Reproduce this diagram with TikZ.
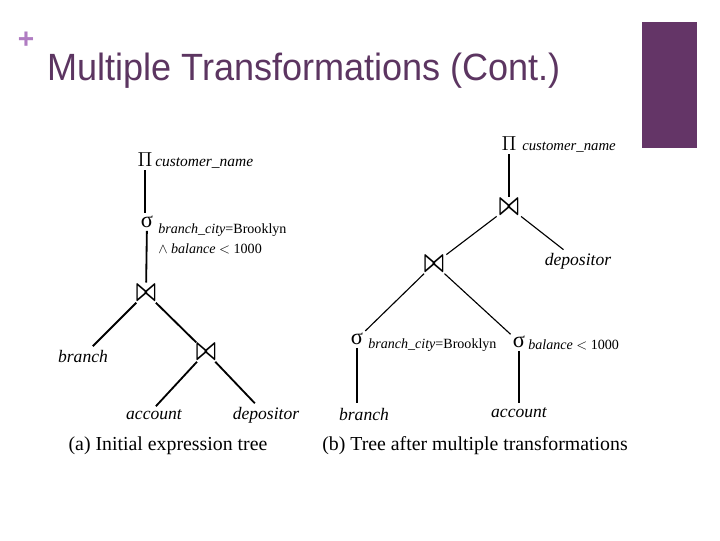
\documentclass[tikz,border=0pt]{standalone}
\usepackage{fontspec}
\usepackage{amsmath}
\usepackage{amssymb}
\setmainfont{Liberation Serif}
\newfontfamily\titlefont{Liberation Sans}
\usetikzlibrary{positioning}
\definecolor{slidePlum}{HTML}{643567}
\definecolor{slideTitle}{HTML}{5C3561}
\definecolor{slidePlus}{HTML}{B07CC2}
\tikzset{
  opsym/.style={inner sep=0pt, font=\fontsize{15}{15}\selectfont},
  sigsym/.style={inner sep=0pt, font=\fontsize{16}{16}\selectfont},
  relname/.style={inner sep=1pt, font=\fontsize{12.5}{14}\selectfont\itshape},
  attrlist/.style={inner sep=0pt, anchor=base west, font=\fontsize{11}{12}\selectfont\itshape},
  condtext/.style={inner sep=0pt, anchor=base west, align=left, font=\fontsize{10}{14}\selectfont},
  caption/.style={inner sep=0pt, font=\fontsize{14.1}{16}\selectfont},
  treeA/.style={line width=1.3pt, shorten <=2pt, shorten >=2pt},
  treeB/.style={line width=0.8pt, shorten <=2pt, shorten >=2pt}
}
\newcommand{\joinsym}{\scalebox{1.05}[1.55]{$\boldsymbol{\bowtie}$}}
\begin{document}
\begin{tikzpicture}[x=0.025cm, y=-0.025cm]
  \useasboundingbox (0,0) rectangle (720,540);
  % slide frame
  \fill[slidePlum] (642,22) rectangle (697,148);
  \node[text=slidePlus, font=\titlefont\bfseries\fontsize{20}{20}\selectfont, inner sep=0pt] (plus) at (26,40) {+};
  \node[text=slideTitle, font=\titlefont\fontsize{27}{30}\selectfont, anchor=base west, inner sep=0pt, xscale=0.95] (title) at (47,80) {Multiple Transformations (Cont.)};

  % (a) initial tree
  \node[opsym] (pia) at (145,160) {$\Pi$};
  \node[attrlist] (pialbl) at (155,166) {customer\_name};
  \node[sigsym] (siga) at (147,222) {σ};
  \node[condtext] (sigalbl) at (158,253) {\textit{branch\_city}=Brooklyn\\$\wedge$ \textit{balance} $<$ 1000};
  \node[opsym] (joina) at (146,293) {\joinsym};
  \node[relname] (brancha) at (83,356) {branch};
  \node[opsym] (joinb) at (206,352) {\joinsym};
  \node[relname] (accounta) at (154,415) {account};
  \node[relname] (depositora) at (266,415) {depositor};
  \draw[treeA] (pia) -- (pia |- siga.north);
  \draw[treeA] (siga) -- (joina);
  \draw[treeA] (joina) -- (brancha);
  \draw[treeA] (joina) -- (joinb);
  \draw[treeA] (joinb) -- (accounta.north);
  \draw[treeA] (joinb) -- (depositora);
  \node[caption] (capa) at (168,446) {(a) Initial expression tree};

  % (b) after transformations
  \node[opsym] (pib) at (509,144) {$\Pi$};
  \node[attrlist, font=\fontsize{10.5}{12}\selectfont\itshape] (piblbl) at (522,150) {customer\_name};
  \node[opsym] (joinc) at (509,207) {\joinsym};
  \node[relname] (depositorb) at (578,261) {depositor};
  \node[opsym] (joind) at (434,264) {\joinsym};
  \node[sigsym] (sigb) at (357,339) {σ};
  \node[condtext] (sigblbl) at (368,348) {\textit{branch\_city}=Brooklyn};
  \node[sigsym] (sigc) at (519,342) {σ};
  \node[condtext] (sigclbl) at (528,349) {\textit{balance} $<$ 1000};
  \node[relname] (branchb) at (364,414) {branch};
  \node[relname] (accountb) at (519,413) {account};
  \draw[treeB] (pib) -- (joinc);
  \draw[treeB] (joinc) -- (joind);
  \draw[treeB] (joinc) -- (depositorb);
  \draw[treeB] (joind) -- (sigb);
  \draw[treeB] (joind) -- (sigc);
  \draw[treeB] (sigb) -- (sigb |- branchb.north);
  \draw[treeB] (sigc) -- (accountb);
  \node[caption] (capb) at (475,446) {(b) Tree after multiple transformations};
\end{tikzpicture}
\end{document}
